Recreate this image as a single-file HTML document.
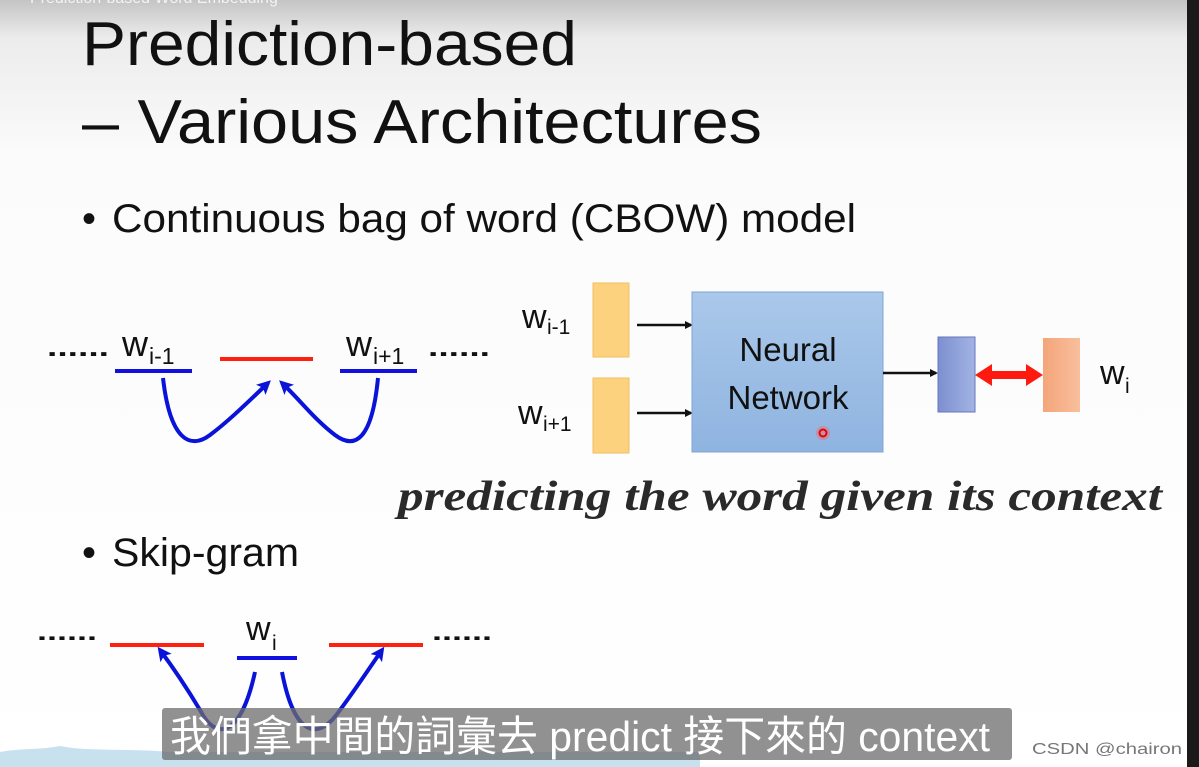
<!DOCTYPE html>
<html><head><meta charset="utf-8"><style>
html,body{margin:0;padding:0;width:1199px;height:767px;overflow:hidden;background:#fafafa}
svg{display:block}
</style></head><body>
<svg width="1199" height="767" viewBox="0 0 1199 767" xmlns="http://www.w3.org/2000/svg" font-family="Liberation Sans, sans-serif">
<defs>
<linearGradient id="bg" x1="0" y1="0" x2="0" y2="1">
<stop offset="0" stop-color="#c4c4c4"/><stop offset="0.05" stop-color="#ececec"/><stop offset="0.2" stop-color="#fbfbfb"/><stop offset="1" stop-color="#ffffff"/></linearGradient>
<linearGradient id="nn" x1="0" y1="0" x2="0" y2="1"><stop offset="0" stop-color="#aac8ea"/><stop offset="1" stop-color="#8fb4e0"/></linearGradient>
<linearGradient id="bl" x1="0" y1="0" x2="1" y2="0"><stop offset="0" stop-color="#7d8fd0"/><stop offset="1" stop-color="#a2b4e4"/></linearGradient>
<linearGradient id="or" x1="0" y1="0" x2="1" y2="0"><stop offset="0" stop-color="#f4a57a"/><stop offset="1" stop-color="#f8bf9d"/></linearGradient>
<marker id="ab" markerWidth="8" markerHeight="8" refX="6" refY="4" orient="auto" markerUnits="userSpaceOnUse"><path d="M0,0 L8,4 L0,8 Z" fill="#111"/></marker>
<marker id="bb" markerWidth="14" markerHeight="14" refX="10" refY="7" orient="auto" markerUnits="userSpaceOnUse"><path d="M0,0 L14,7 L0,14 L3,7 Z" fill="#0a14d8"/></marker>
</defs>
<rect width="1199" height="767" fill="url(#bg)"/>
<rect x="1187" y="0" width="12" height="767" fill="#1a1a1a"/>
<text x="30" y="3" font-size="16" fill="#fff" opacity="0.8">Prediction-based Word Embedding</text>
<g lengthAdjust="spacingAndGlyphs">
<text x="82" y="65" font-size="62" fill="#111" textLength="495" lengthAdjust="spacingAndGlyphs">Prediction-based</text>
<text x="82" y="143" font-size="62" fill="#111" textLength="680" lengthAdjust="spacingAndGlyphs">– Various Architectures</text>
<text x="82" y="232" font-size="40" fill="#111">•</text>
<text x="112" y="232" font-size="40" fill="#111" textLength="744" lengthAdjust="spacingAndGlyphs">Continuous bag of word (CBOW) model</text>
<text x="82" y="566" font-size="40" fill="#111">•</text>
<text x="112" y="566" font-size="40" fill="#111" textLength="187" lengthAdjust="spacingAndGlyphs">Skip-gram</text>
</g>
<!-- CBOW left -->
<text x="47" y="356" font-size="26" font-weight="bold" fill="#111" textLength="62" lengthAdjust="spacingAndGlyphs">......</text>
<text x="122" y="356" font-size="36" fill="#111">w</text><text x="149" y="364" font-size="23" fill="#111">i-1</text>
<rect x="115" y="369" width="77" height="4" fill="#1010e0"/>
<rect x="220" y="357" width="93" height="4" fill="#ff2010"/>
<text x="346" y="356" font-size="36" fill="#111">w</text><text x="373" y="364" font-size="23" fill="#111">i+1</text>
<rect x="340" y="369" width="77" height="4" fill="#1010e0"/>
<text x="428" y="356" font-size="26" font-weight="bold" fill="#111" textLength="62" lengthAdjust="spacingAndGlyphs">......</text>
<path d="M163,378 C170,440 190,450 210,435 C230,420 250,400 268,383" stroke="#0a14d8" stroke-width="4" fill="none" marker-end="url(#bb)"/>
<path d="M378,378 C372,440 355,450 335,435 C315,420 300,400 282,383" stroke="#0a14d8" stroke-width="4" fill="none" marker-end="url(#bb)"/>
<!-- NN diagram -->
<text x="522" y="328" font-size="34" fill="#111">w</text><text x="547" y="334" font-size="21" fill="#111">i-1</text>
<text x="518" y="424" font-size="34" fill="#111">w</text><text x="543" y="431" font-size="21" fill="#111">i+1</text>
<rect x="593" y="283" width="36" height="74" fill="#fcd27e" stroke="#f0c060"/>
<rect x="593" y="378" width="36" height="75" fill="#fcd27e" stroke="#f0c060"/>
<line x1="637" y1="325" x2="691" y2="325" stroke="#111" stroke-width="2.5" marker-end="url(#ab)"/>
<line x1="637" y1="413" x2="691" y2="413" stroke="#111" stroke-width="2.5" marker-end="url(#ab)"/>
<rect x="692" y="292" width="191" height="160" fill="url(#nn)" stroke="#7ea6d6"/>
<text x="788" y="361" font-size="33" fill="#111" text-anchor="middle">Neural</text>
<text x="788" y="409" font-size="33" fill="#111" text-anchor="middle">Network</text>
<circle cx="823" cy="433" r="7" fill="#ff6060" opacity="0.4"/><circle cx="823" cy="433" r="3.5" fill="none" stroke="#e00" stroke-width="2"/>
<line x1="883" y1="373" x2="936" y2="373" stroke="#111" stroke-width="2.5" marker-end="url(#ab)"/>
<rect x="938" y="337" width="37" height="75" fill="url(#bl)" stroke="#6677bb"/>
<rect x="1043" y="338" width="37" height="74" fill="url(#or)"/>
<path d="M975,375 L992,364 L992,371 L1026,371 L1026,364 L1043,375 L1026,386 L1026,379 L992,379 L992,386 Z" fill="#ff1a10"/>
<text x="1100" y="384" font-size="34" fill="#111">w</text><text x="1125" y="393" font-size="21" fill="#111">i</text>
<text x="398" y="510" font-size="42" font-family="Liberation Serif, serif" font-weight="bold" font-style="italic" fill="#2a2a2a" textLength="764" lengthAdjust="spacingAndGlyphs">predicting the word given its context</text>
<!-- skip-gram -->
<text x="37" y="640" font-size="24" font-weight="bold" fill="#111" textLength="60" lengthAdjust="spacingAndGlyphs">......</text>
<rect x="110" y="643" width="94" height="4" fill="#ff2010"/>
<text x="246" y="640" font-size="34" fill="#111">w</text><text x="272" y="650" font-size="21" fill="#111">i</text>
<rect x="237" y="656" width="60" height="4" fill="#1010e0"/>
<rect x="329" y="643" width="94" height="4" fill="#ff2010"/>
<text x="432" y="640" font-size="24" font-weight="bold" fill="#111" textLength="60" lengthAdjust="spacingAndGlyphs">......</text>
<path d="M255,672 C240,740 215,740 200,710 C185,685 175,670 160,650" stroke="#0a14d8" stroke-width="4" fill="none" marker-end="url(#bb)"/>
<path d="M282,672 C295,740 320,740 340,710 C355,690 368,670 382,650" stroke="#0a14d8" stroke-width="4" fill="none" marker-end="url(#bb)"/>
<path d="M0,752 C20,748 40,750 60,746 C90,752 130,748 170,752 L700,752 L700,767 L0,767 Z" fill="#c7e2ee"/>
<rect x="162" y="708" width="850" height="52" rx="3" fill="#6c6c6c" opacity="0.75"/>
<text x="170" y="751" font-size="42" fill="#fff" font-family="Liberation Sans, Noto Sans CJK TC, sans-serif" textLength="820" lengthAdjust="spacingAndGlyphs">我們拿中間的詞彙去 predict 接下來的 context</text>
<text x="1032" y="754" font-size="16" fill="#777" textLength="150" lengthAdjust="spacingAndGlyphs">CSDN @chairon</text>
</svg>
</body></html>
